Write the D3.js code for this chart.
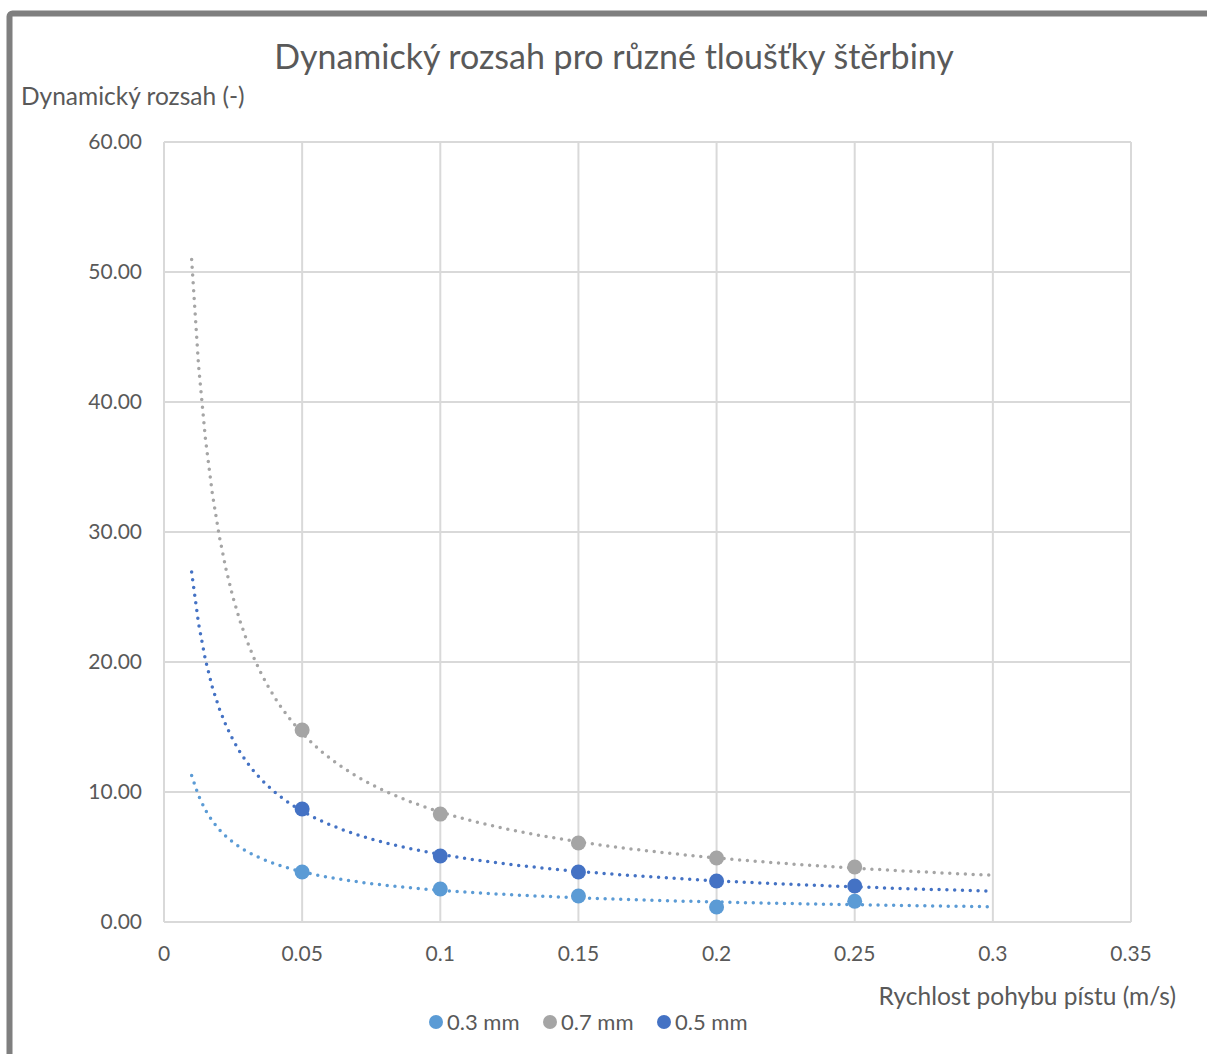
<!DOCTYPE html>
<html>
<head>
<meta charset="utf-8">
<script src="https://cdn.jsdelivr.net/npm/d3@7"></script>
<style>
  body { margin: 0; background: #fff; }
  text { font-family: Lato, "Noto Sans", sans-serif; fill: #595959; }
</style>
</head>
<body>
<svg id="chart"></svg>
<script>
// data
var speeds = [0.05, 0.1, 0.15, 0.2, 0.25];
var seriesNames = ["0.3 mm", "0.7 mm", "0.5 mm"];
var colors = ["#5B9BD5", "#A5A5A5", "#4472C4"];
var range03 = [3.85, 2.54, 2.0, 1.15, 1.6];
var range07 = [14.77, 8.3, 6.08, 4.92, 4.23];
var range05 = [8.69, 5.08, 3.85, 3.15, 2.77];
var trendFrom = 0.01, trendTo = 0.3;   // trendline extent (power fit)
var xTicks = [0, 0.05, 0.1, 0.15, 0.2, 0.25, 0.3, 0.35];
var yTicks = [0, 10, 20, 30, 40, 50, 60];

var W = 1207, H = 1054;
var plotL = 164, plotR = 1131, plotT = 142, plotB = 922;

var svg = d3.select("#chart").attr("width", W).attr("height", H);

// outer chart border (only top + left visible in the crop)
svg.append("rect")
    .attr("x", 9.5).attr("y", 13.5)
    .attr("width", W + 20).attr("height", H + 20)
    .attr("rx", 3)
    .attr("fill", "none").attr("stroke", "#7f7f7f").attr("stroke-width", 6);

var x = d3.scaleLinear().domain([0, 0.35]).range([plotL, plotR]);
var y = d3.scaleLinear().domain([0, 60]).range([plotB, plotT]);

// grid
var grid = svg.append("g");
grid.selectAll("line.v").data(xTicks).enter().append("line")
    .attr("x1", d => x(d)).attr("x2", d => x(d))
    .attr("y1", plotT).attr("y2", plotB)
    .attr("stroke", "#d9d9d9").attr("stroke-width", 2);
grid.selectAll("line.h").data(yTicks).enter().append("line")
    .attr("x1", plotL).attr("x2", plotR)
    .attr("y1", d => y(d)).attr("y2", d => y(d))
    .attr("stroke", "#d9d9d9").attr("stroke-width", 2);

// tick labels
svg.append("g").selectAll("text").data(xTicks).enter().append("text")
    .attr("x", d => x(d)).attr("y", plotB + 39)
    .attr("text-anchor", "middle").attr("font-size", 21)
    .text(d => d);
svg.append("g").selectAll("text").data(yTicks).enter().append("text")
    .attr("x", plotL - 22).attr("y", d => y(d) + 7)
    .attr("text-anchor", "end").attr("font-size", 21)
    .text(d => d3.format(".2f")(d));

// titles
svg.append("text").attr("x", 614).attr("y", 69)
    .attr("text-anchor", "middle").attr("font-size", 34)
    .text("Dynamický rozsah pro různé tloušťky štěrbiny");
svg.append("text").attr("x", 21).attr("y", 105)
    .attr("font-size", 24.5)
    .text("Dynamický rozsah (-)");
svg.append("text").attr("x", 1176).attr("y", 1005)
    .attr("text-anchor", "end").attr("font-size", 24.5)
    .text("Rychlost pohybu pístu (m/s)");

// power trendline y = a*x^b, least squares in log-log (like Excel)
function powerFit(xs, ys) {
  var lx = xs.map(Math.log), ly = ys.map(Math.log);
  var mx = d3.mean(lx), my = d3.mean(ly);
  var b = d3.sum(lx, (v, i) => (v - mx) * (ly[i] - my)) / d3.sum(lx, v => (v - mx) * (v - mx));
  var a = Math.exp(my - b * mx);
  return v => a * Math.pow(v, b);
}

var allSeries = [range03, range07, range05];
var line = d3.line().x(d => x(d[0])).y(d => y(d[1]));
var trendX = d3.range(trendFrom, trendTo + 1e-9, 0.0025);

allSeries.forEach(function(vals, i) {
  var f = powerFit(speeds, vals);
  svg.append("path")
      .datum(trendX.map(v => [v, f(v)]))
      .attr("d", line)
      .attr("fill", "none")
      .attr("stroke", colors[i])
      .attr("stroke-width", 3.5)
      .attr("stroke-linecap", "round")
      .attr("stroke-dasharray", "0 7.8");
});

allSeries.forEach(function(vals, i) {
  svg.append("g").selectAll("circle").data(vals).enter().append("circle")
      .attr("cx", (d, j) => x(speeds[j]))
      .attr("cy", d => y(d))
      .attr("r", 7.5)
      .attr("fill", colors[i]);
});

// legend
var legX = [436, 550, 664];
var leg = svg.append("g").selectAll("g").data(seriesNames).enter().append("g")
    .attr("transform", (d, i) => "translate(" + legX[i] + ",1022)");
leg.append("circle").attr("r", 7).attr("fill", (d, i) => colors[i]);
leg.append("text").attr("x", 11).attr("y", 8).attr("font-size", 22).text(d => d);
</script>
</body>
</html>
